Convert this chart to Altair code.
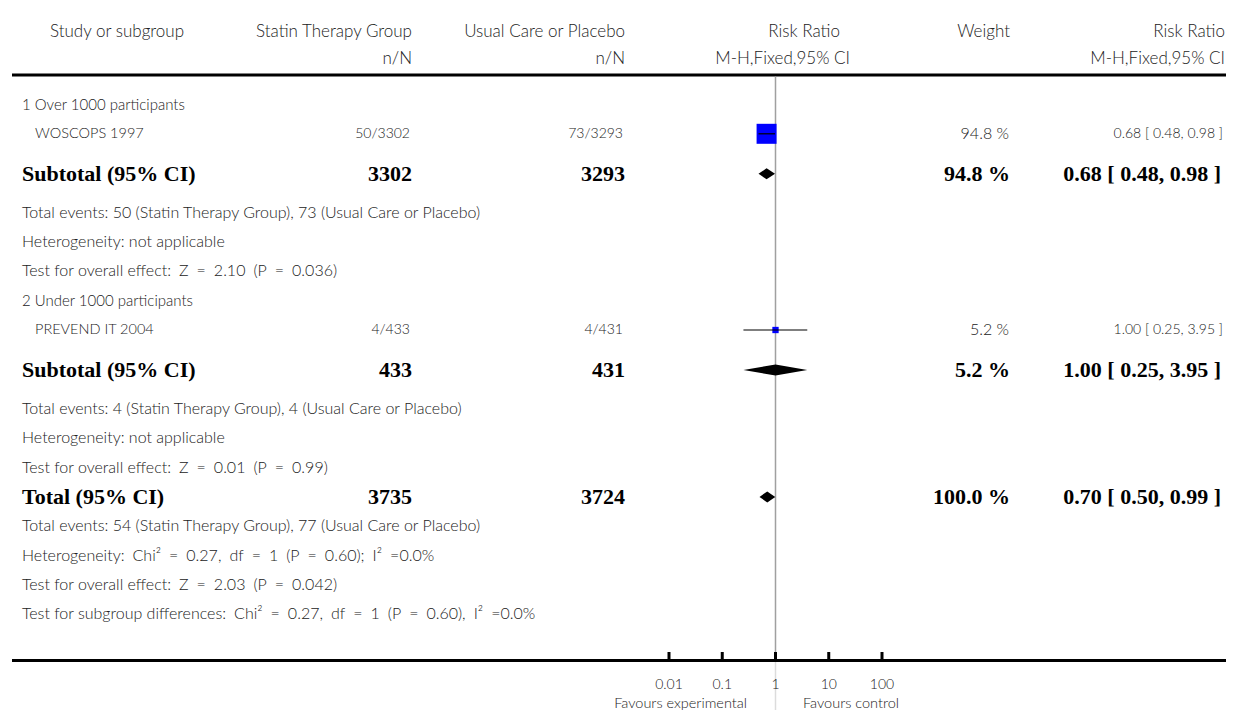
import altair as alt
import pandas as pd

# ---------------- data ----------------
subgroups = ["1 Over 1000 participants", "2 Under 1000 participants"]
studies = ["WOSCOPS 1997", "PREVEND IT 2004"]
statin_events = [50, 4]
statin_total = [3302, 433]
control_events = [73, 4]
control_total = [3293, 431]
weights = [94.8, 5.2]
rr = [0.68, 1.00]
rr_lo = [0.48, 0.25]
rr_hi = [0.98, 3.95]
sub_z = ["2.10", "0.01"]
sub_p = ["0.036", "0.99"]
total_rr, total_lo, total_hi = 0.70, 0.50, 0.99
total_weight = 100.0
total_het = "Heterogeneity: Chi\u00b2 = 0.27, df = 1 (P = 0.60); I\u00b2 =0.0%"
total_effect = "Test for overall effect: Z = 2.03 (P = 0.042)"
subgroup_diff = "Test for subgroup differences: Chi\u00b2 = 0.27, df = 1 (P = 0.60), I\u00b2 =0.0%"
tick_values = [0.01, 0.1, 1, 10, 100]
tick_labels = ["0.01", "0.1", "1", "10", "100"]

# ---------------- layout / style ----------------
W, H = 1218, 702
ROW0, GAP, GAP_BEFORE_SUB, GAP_AFTER_SUB = 96.5, 29.3, 40, 39
REG_FONT, REG_COLOR = "Lato", "#222222"
BOLD_FONT, BOLD_SIZE = "Liberation Serif", 22
S_HEAD, S_GROUP, S_STUDY, S_NUM, S_W, S_RR, S_NOTE = 17, 15, 14.5, 14, 16, 14, 16


def wide(s):
    # the source typeface sets statistics with wide word spacing
    head, tail = s.split(": ", 1)
    return head + ":\u2002" + tail.replace(" ", "\u2002")


def ci_text(e, l, h):
    return f"{e:.2f} [ {l:.2f}, {h:.2f} ]"


seq = []
for i in range(2):
    seq.append(("group", subgroups[i]))
    seq.append(("study", i))
    seq.append(("subtotal", i))
    seq.append(("note", f"Total events: {statin_events[i]} (Statin Therapy Group), {control_events[i]} (Usual Care or Placebo)"))
    seq.append(("note", "Heterogeneity: not applicable"))
    seq.append(("stat", f"Test for overall effect: Z = {sub_z[i]} (P = {sub_p[i]})"))
seq.append(("total", None))
seq.append(("note", f"Total events: {sum(statin_events)} (Statin Therapy Group), {sum(control_events)} (Usual Care or Placebo)"))
seq.append(("stat", total_het))
seq.append(("stat", total_effect))
seq.append(("stat", subgroup_diff))

ys = []
y = ROW0
prev = None
for k, (kind, _) in enumerate(seq):
    if k > 0:
        if kind == "subtotal":
            y += GAP_BEFORE_SUB
        elif prev == "subtotal":
            y += GAP_AFTER_SUB
        else:
            y += GAP
    ys.append(y)
    prev = kind

groups_t, notes_t, studies_t, left_bold = [], [], [], []
statin_reg, statin_bold, ctrl_reg, ctrl_bold = [], [], [], []
w_reg, w_bold, rr_reg, rr_bold = [], [], [], []
study_rows, diamond_pts = [], []
for (kind, p), y in zip(seq, ys):
    if kind == "group":
        groups_t.append({"y": y, "t": p})
    elif kind == "note":
        notes_t.append({"y": y, "t": p})
    elif kind == "stat":
        notes_t.append({"y": y, "t": wide(p)})
    elif kind == "study":
        studies_t.append({"y": y, "t": studies[p]})
        statin_reg.append({"y": y, "t": f"{statin_events[p]}/{statin_total[p]}"})
        ctrl_reg.append({"y": y, "t": f"{control_events[p]}/{control_total[p]}"})
        w_reg.append({"y": y, "t": f"{weights[p]:.1f} %"})
        rr_reg.append({"y": y, "t": ci_text(rr[p], rr_lo[p], rr_hi[p])})
        study_rows.append({"y": y, "rr": rr[p], "lo": rr_lo[p], "hi": rr_hi[p], "w": weights[p]})
    elif kind in ("subtotal", "total"):
        if kind == "subtotal":
            lab, n1, n2, wt = "Subtotal (95% CI)", statin_total[p], control_total[p], weights[p]
            e, l, h = rr[p], rr_lo[p], rr_hi[p]
        else:
            lab, n1, n2, wt = "Total (95% CI)", sum(statin_total), sum(control_total), total_weight
            e, l, h = total_rr, total_lo, total_hi
        left_bold.append({"y": y, "t": lab})
        statin_bold.append({"y": y, "t": str(n1)})
        ctrl_bold.append({"y": y, "t": str(n2)})
        w_bold.append({"y": y, "t": f"{wt:.1f} %"})
        rr_bold.append({"y": y, "t": ci_text(e, l, h)})
        did = f"d{y}"
        hh = 5.5
        diamond_pts += [
            {"id": did, "x": l, "y": y, "y2": y},
            {"id": did, "x": e, "y": y - hh, "y2": y + hh},
            {"id": did, "x": h, "y": y, "y2": y},
        ]

YS = alt.Scale(domain=[0, H], range=[0, H], nice=False, zero=False)
XS = alt.Scale(type="log", domain=[0.01, 100], range=[661, 874], nice=False, clamp=False)


def txt(rows, x, align, size, bold=False):
    df = pd.DataFrame(rows)
    if bold:
        mk = alt.Chart(df).mark_text(align=align, baseline="middle", font=BOLD_FONT,
                                     fontSize=size, fontWeight="bold", color="black")
    else:
        mk = alt.Chart(df).mark_text(align=align, baseline="middle", font=REG_FONT,
                                     fontSize=size, fontWeight=300, color=REG_COLOR)
    return mk.encode(x=alt.value(x), y=alt.Y("y:Q", scale=YS, axis=None), text="t:N")


layers = []
# header
hdr1, hdr2 = 23.5, 50.5
layers.append(txt([{"y": hdr1, "t": "Study or subgroup"}], 42, "left", S_HEAD))
layers.append(txt([{"y": hdr1, "t": "Statin Therapy Group"}, {"y": hdr2, "t": "n/N"}], 404, "right", S_HEAD))
layers.append(txt([{"y": hdr1, "t": "Usual Care or Placebo"}, {"y": hdr2, "t": "n/N"}], 617, "right", S_HEAD))
layers.append(txt([{"y": hdr1, "t": "Risk Ratio"}], 832, "right", S_HEAD))
layers.append(txt([{"y": hdr2, "t": "M-H,Fixed,95% CI"}], 842, "right", S_HEAD))
layers.append(txt([{"y": hdr1, "t": "Weight"}], 1002, "right", S_HEAD))
layers.append(txt([{"y": hdr1, "t": "Risk Ratio"}, {"y": hdr2, "t": "M-H,Fixed,95% CI"}], W - 1, "right", S_HEAD))

# thick rules
one = pd.DataFrame({"a": [0]})
layers.append(alt.Chart(one).mark_rule(color="black", strokeWidth=3).encode(
    x=alt.value(4), x2=alt.value(W), y=alt.value(67)))
layers.append(alt.Chart(one).mark_rule(color="black", strokeWidth=3).encode(
    x=alt.value(4), x2=alt.value(W), y=alt.value(652.5)))

# reference line at 1
ref = pd.DataFrame({"x": [1.0]})
layers.append(alt.Chart(ref).mark_rule(color="#a0a0a0", strokeWidth=1.5).encode(
    x=alt.X("x:Q", scale=XS, axis=None), y=alt.value(68.5), y2=alt.value(651)))
layers.append(alt.Chart(ref).mark_rule(color="#dcdcdc", strokeWidth=1.5).encode(
    x=alt.X("x:Q", scale=XS, axis=None), y=alt.value(654), y2=alt.value(H)))

# body text
layers.append(txt(groups_t, 14, "left", S_GROUP))
layers.append(txt(notes_t, 14, "left", S_NOTE))
layers.append(txt(studies_t, 27, "left", S_STUDY))
layers.append(txt(left_bold, 14, "left", BOLD_SIZE, bold=True))
layers.append(txt(statin_reg, 402, "right", S_NUM))
layers.append(txt(statin_bold, 404, "right", BOLD_SIZE, bold=True))
layers.append(txt(ctrl_reg, 615, "right", S_NUM))
layers.append(txt(ctrl_bold, 617, "right", BOLD_SIZE, bold=True))
layers.append(txt(w_reg, 1001, "right", S_W))
layers.append(txt(w_bold, 1002, "right", BOLD_SIZE, bold=True))
layers.append(txt(rr_reg, W - 3, "right", S_RR))
layers.append(txt(rr_bold, W - 5, "right", BOLD_SIZE, bold=True))

# study squares and CIs
sdf = pd.DataFrame(study_rows)
layers.append(alt.Chart(sdf).mark_square(color="#0000ff", opacity=1, strokeWidth=0).encode(
    x=alt.X("rr:Q", scale=XS, axis=None),
    y=alt.Y("y:Q", scale=YS, axis=None),
    size=alt.Size("w:Q", scale=alt.Scale(domain=[5.2, 94.8], range=[40, 400]), legend=None)))
layers.append(alt.Chart(sdf).mark_rule(color="black", strokeWidth=1.2).encode(
    x=alt.X("lo:Q", scale=XS, axis=None), x2="hi:Q",
    y=alt.Y("y:Q", scale=YS, axis=None)))

# diamonds
ddf = pd.DataFrame(diamond_pts)
layers.append(alt.Chart(ddf).mark_area(color="black", orient="vertical", opacity=1).encode(
    x=alt.X("x:Q", scale=XS, axis=None),
    y=alt.Y("y:Q", scale=YS, axis=None), y2="y2:Q",
    detail="id:N"))

# axis ticks and labels
tdf = pd.DataFrame({"v": tick_values, "lab": tick_labels})
layers.append(alt.Chart(tdf).mark_rule(color="black", strokeWidth=3).encode(
    x=alt.X("v:Q", scale=XS, axis=None), y=alt.value(644), y2=alt.value(651)))
layers.append(alt.Chart(tdf).mark_text(baseline="middle", align="center", font=REG_FONT,
                                       fontSize=14, fontWeight=300, color=REG_COLOR).encode(
    x=alt.X("v:Q", scale=XS, axis=None), y=alt.value(677), text="lab:N"))
layers.append(alt.Chart(pd.DataFrame({"t": ["Favours experimental"]})).mark_text(
    baseline="middle", align="right", font=REG_FONT, fontSize=14.5, fontWeight=300, color=REG_COLOR).encode(
    x=alt.value(739), y=alt.value(695.5), text="t:N"))
layers.append(alt.Chart(pd.DataFrame({"t": ["Favours control"]})).mark_text(
    baseline="middle", align="left", font=REG_FONT, fontSize=14.5, fontWeight=300, color=REG_COLOR).encode(
    x=alt.value(795), y=alt.value(695.5), text="t:N"))

chart = alt.layer(*layers).properties(
    width=W, height=H, padding=0, autosize="none"
).configure_view(stroke=None)

chart.save("out.html", embed_options={"renderer": "svg", "actions": False})
